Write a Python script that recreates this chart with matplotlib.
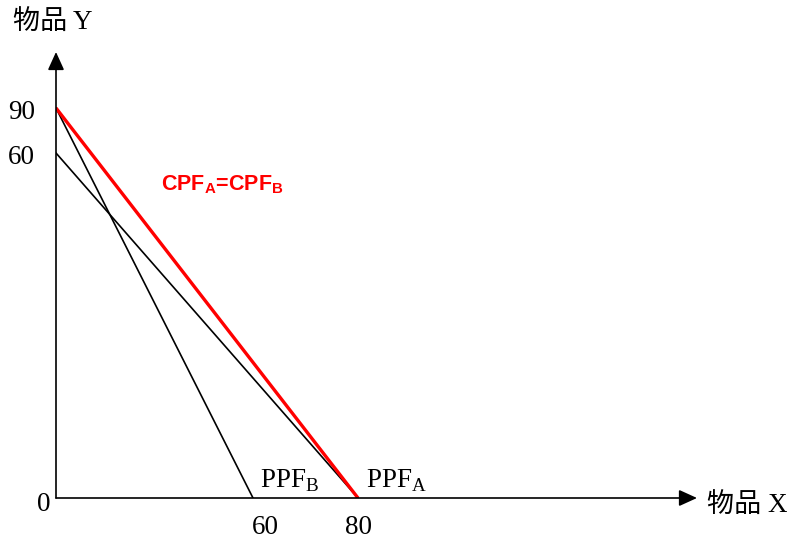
import numpy as np
import matplotlib
matplotlib.use("Agg")
import matplotlib.pyplot as plt

plt.rcParams['mathtext.fontset'] = 'custom'
plt.rcParams['mathtext.rm'] = 'Liberation Serif'
plt.rcParams['mathtext.bf'] = 'Liberation Sans:bold'
serif = ['Liberation Serif', 'Noto Sans CJK SC']

# data (schematic production possibility frontiers)
ppf_a_x = [0, 80]
ppf_a_y = [60, 0]
ppf_b_x = [0, 60]
ppf_b_y = [90, 0]
cpf_x = [0, 80]
cpf_y = [90, 0]
x_ticks = [60, 80]
y_ticks = [90, 60]

# the original drawing is not to scale: piecewise-linear axis scales
x_knots, x_px = [0, 60, 80, 300], [0, 197, 302, 302 + 220 * 5.25]
y_knots, y_px = [0, 60, 90, 300], [0, 345, 390, 390 + 210 * 1.5]

def fx(v):
    return np.interp(v, x_knots, x_px)

def ix(v):
    return np.interp(v, x_px, x_knots)

def fy(v):
    return np.interp(v, y_knots, y_px)

def iy(v):
    return np.interp(v, y_px, y_knots)

W, H = 787, 539
fig = plt.figure(figsize=(W / 100, H / 100), dpi=100)
ox, oy = 56, 498
ax = fig.add_axes([ox / W, (H - oy) / H, (697 - ox) / W, (oy - 52) / H])
ax.set_xscale('function', functions=(fx, ix))
ax.set_yscale('function', functions=(fy, iy))
ax.set_xlim(0, ix(697 - ox))
ax.set_ylim(0, iy(oy - 52))
ax.axis('off')

ax.plot(ppf_a_x, ppf_a_y, color='black', lw=1.2)
ax.plot(ppf_b_x, ppf_b_y, color='black', lw=1.2)
ax.plot(cpf_x, cpf_y, color='#ff0000', lw=2.4, solid_capstyle='butt')

# axes with arrows
arrow = dict(arrowstyle='-|>,head_length=1.1,head_width=0.5', color='black',
             lw=1.2, shrinkA=0, shrinkB=0)
ax.annotate('', xy=(1, 0), xytext=(0, 0), xycoords='axes fraction', arrowprops=arrow)
ax.annotate('', xy=(0, 1), xytext=(0, 0), xycoords='axes fraction', arrowprops=arrow)

fs = 19.5
for v in x_ticks:
    dx = 9 if v == 60 else 0
    ax.annotate(str(v), xy=(v, 0), xytext=(dx, -21), textcoords='offset points',
                ha='center', va='center', fontsize=fs, family=serif)
for v in y_ticks:
    ax.annotate(str(v), xy=(0, v), xytext=(-25, -3), textcoords='offset points',
                ha='center', va='center', fontsize=fs, family=serif)
ax.annotate('0', xy=(0, 0), xytext=(-9, -5), textcoords='offset points',
            ha='center', va='center', fontsize=fs, family=serif)

fig.text(13 / W, 1 - 22 / H, '物品 Y', ha='left', va='center', fontsize=fs, family=serif)
fig.text(707 / W, 1 - 505 / H, '物品 X', ha='left', va='center', fontsize=fs, family=serif)

ax.annotate('PPF$_\\mathrm{B}$', xy=(60, 0), xytext=(5, 3), textcoords='offset points',
            ha='left', va='bottom', fontsize=fs, family=serif)
ax.annotate('PPF$_\\mathrm{A}$', xy=(80, 0), xytext=(6, 3), textcoords='offset points',
            ha='left', va='bottom', fontsize=fs, family=serif)

fig.text(161 / W, 1 - 185 / H, 'CPF$_\\mathbf{A}$=CPF$_\\mathbf{B}$', ha='left', va='center',
         fontsize=15.5, family='Liberation Sans', weight='bold', color='#ff0000')

fig.savefig('out.png', dpi=100)
